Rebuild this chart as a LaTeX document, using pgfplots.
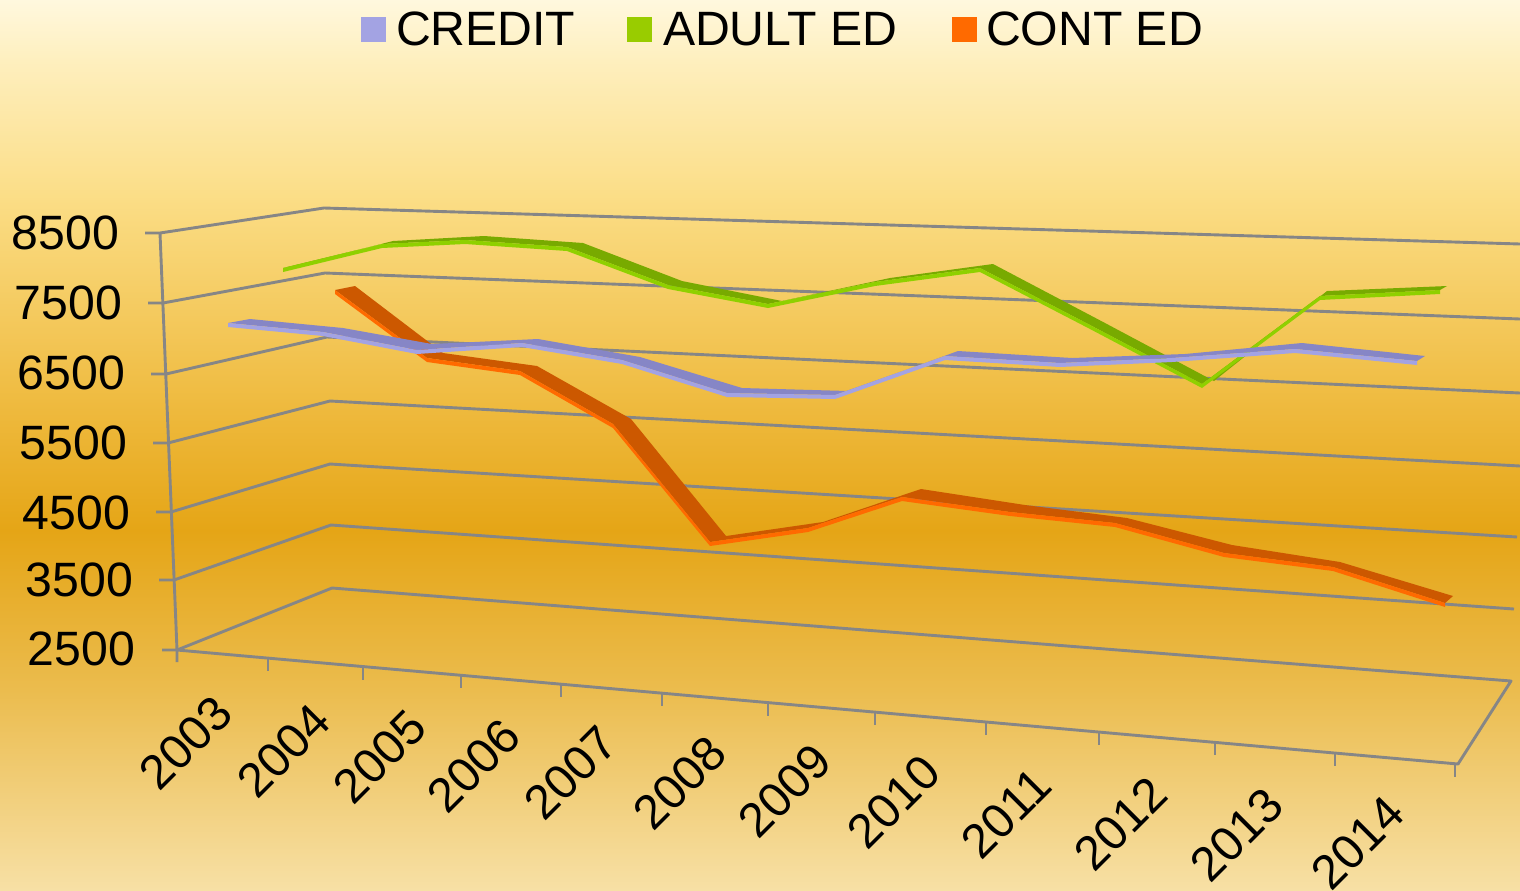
\documentclass[border=0pt]{standalone}
\usepackage{pgfplots}
\pgfplotsset{compat=1.18}
\usepackage{fontspec}
\setmainfont{Liberation Sans}
\definecolor{gridc}{HTML}{868686}
\definecolor{blueL}{HTML}{A3A3E3}
\definecolor{blueD}{HTML}{8686C6}
\definecolor{greenL}{HTML}{8FD000}
\definecolor{greenD}{HTML}{78AA00}
\definecolor{greenS}{HTML}{99CC00}
\definecolor{orL}{HTML}{FF6A00}
\definecolor{orD}{HTML}{CC5800}
\definecolor{bg0}{HTML}{FFF8DE}
\definecolor{bg1}{HTML}{FEEFBE}
\definecolor{bg2}{HTML}{FBDD85}
\definecolor{bg3}{HTML}{EFBB40}
\definecolor{bg4}{HTML}{E5A516}
\definecolor{bg5}{HTML}{EBBC4E}
\definecolor{bg6}{HTML}{F7E0A5}
\newcommand\fs{\fontsize{24.1pt}{28pt}\selectfont}
\tikzset{lab/.style={font=\fs,inner sep=0pt,outer sep=0pt,text=black}}
\begin{document}
\begin{tikzpicture}
\useasboundingbox (0,0) rectangle (760pt,445pt);
\begin{axis}[at={(0,0)},anchor=south west,width=760pt,height=445pt,scale only axis,hide axis,
  xmin=0,xmax=1520,ymin=0,ymax=890,y dir=reverse,clip=true,
  grid line/.style={draw=gridc,line width=1.45pt,line join=round}]
\shade[top color=bg0,bottom color=bg1] (axis cs:0,0) rectangle (axis cs:1520,61);
\shade[top color=bg1,bottom color=bg2] (axis cs:0,60) rectangle (axis cs:1520,201);
\shade[top color=bg2,bottom color=bg3] (axis cs:0,200) rectangle (axis cs:1520,401);
\shade[top color=bg3,bottom color=bg4] (axis cs:0,400) rectangle (axis cs:1520,531);
\shade[top color=bg4,bottom color=bg5] (axis cs:0,530) rectangle (axis cs:1520,691);
\shade[top color=bg5,bottom color=bg6] (axis cs:0,690) rectangle (axis cs:1520,890);
% walls
\addplot[grid line] coordinates {(145,233)(160,233)(324,208)(1520,244)};
\addplot[grid line] coordinates {(148,303)(163,303)(325,273)(1520,319)};
\addplot[grid line] coordinates {(151,374)(166,374)(327,337)(1520,393)};
\addplot[grid line] coordinates {(153,443)(168,443)(330,401)(1520,466)};
\addplot[grid line] coordinates {(156,512)(171,512)(330,464)(1517,537)};
\addplot[grid line] coordinates {(159,580)(174,580)(331,525)(1514,609)};
\addplot[grid line] coordinates {(162,650)(177,650)(332,588)(1511,681)(1458,764)(177,650)};
\addplot[grid line] coordinates {(160,233)(177,650)(177,662)};
\addplot[grid line] coordinates {(268,658)(268,671)};
\addplot[grid line] coordinates {(363,667)(363,680)};
\addplot[grid line] coordinates {(461,675)(461,688)};
\addplot[grid line] coordinates {(561,684)(561,697)};
\addplot[grid line] coordinates {(662,693)(662,706)};
\addplot[grid line] coordinates {(768,703)(768,716)};
\addplot[grid line] coordinates {(875,712)(875,725)};
\addplot[grid line] coordinates {(986,722)(986,735)};
\addplot[grid line] coordinates {(1099,732)(1099,745)};
\addplot[grid line] coordinates {(1215,742)(1215,755)};
\addplot[grid line] coordinates {(1335,753)(1335,766)};
\addplot[grid line] coordinates {(1455,764)(1455,777)};
% CONT ED
\addplot[fill=orD,draw=none] coordinates {(335,290)(427,358)(520,371)(613,424)(710,542)(808,528)(902,497)(1010,512)(1115,523)(1224,553)(1333,567)(1445,603)
 (1453,596)(1340,562)(1232,545)(1127,518)(1025,505)(921,489)(823,522)(726,536)(631,419)(537,366)(443,353)(355,286)} --cycle;
\addplot[fill=orL,draw=none] coordinates {(335,290)(427,358)(520,371)(613,424)(710,542)(808,528)(902,497)(1010,512)(1115,523)(1224,553)(1333,567)(1445,603)
 (1445,607)(1333,571)(1224,557)(1115,527)(1010,516)(902,501)(808,532)(710,546)(613,428)(520,375)(427,362)(335,294)} --cycle;
% ADULT ED
\addplot[fill=greenD,draw=none] coordinates {(283,268)(382,244)(465,240)(567,247)(668,285)(768,304)(875,282)(980,268)(1090,325)(1202,384)(1320,296)(1440,290)
 (1447,286)(1327,291)(1214,381)(1105,323)(993,264)(890,278)(782,301)(682,281)(583,243)(484,236)(393,241)(295,266)} --cycle;
\addplot[fill=greenL,draw=none] coordinates {(283,268)(382,244)(465,240)(567,247)(668,285)(768,304)(875,282)(980,268)(1090,325)(1202,384)(1320,296)(1440,290)
 (1440,294)(1320,300)(1202,388)(1090,329)(980,272)(875,286)(768,308)(668,289)(567,251)(465,244)(382,248)(283,272)} --cycle;
% CREDIT
\addplot[fill=blueD,draw=none] coordinates {(228,323)(323,332)(417,350)(522,343)(622,360)(727,393)(835,395)(945,356)(1060,363)(1172,358)(1295,349)(1417,361)
 (1425,356)(1302,343)(1185,354)(1072,358)(958,351)(848,391)(742,388)(640,357)(538,339)(432,344)(343,328)(250,319)} --cycle;
\addplot[fill=blueL,draw=none] coordinates {(228,323)(323,332)(417,350)(522,343)(622,360)(727,393)(835,395)(945,356)(1060,363)(1172,358)(1295,349)(1417,361)
 (1417,365)(1295,353)(1172,362)(1060,367)(945,360)(835,399)(727,397)(622,364)(522,347)(417,354)(323,336)(228,327)} --cycle;
% legend
\addplot[fill=blueL,draw=none] coordinates {(361,17)(386,17)(386,42)(361,42)} --cycle;
\addplot[fill=greenS,draw=none] coordinates {(627,17)(652,17)(652,42)(627,42)} --cycle;
\addplot[fill=orL,draw=none] coordinates {(952,17)(977,17)(977,42)(952,42)} --cycle;
\node[lab,anchor=base west] at (axis cs:396,45) {CREDIT};
\node[lab,anchor=base west] at (axis cs:663,45) {ADULT ED};
\node[lab,anchor=base west] at (axis cs:986,45) {CONT ED};
% y labels
\node[lab,anchor=east] at (axis cs:119,233) {8500};
\node[lab,anchor=east] at (axis cs:122,303) {7500};
\node[lab,anchor=east] at (axis cs:125,373) {6500};
\node[lab,anchor=east] at (axis cs:127,443) {5500};
\node[lab,anchor=east] at (axis cs:130,513) {4500};
\node[lab,anchor=east] at (axis cs:133,580) {3500};
\node[lab,anchor=east] at (axis cs:135,649) {2500};
% x labels
\node[lab,rotate=45] at (axis cs:186,743) {2003};
\node[lab,rotate=45] at (axis cs:284,751) {2004};
\node[lab,rotate=45] at (axis cs:380,757) {2005};
\node[lab,rotate=45] at (axis cs:474,766) {2006};
\node[lab,rotate=45] at (axis cs:571,773) {2007};
\node[lab,rotate=45] at (axis cs:680,783) {2008};
\node[lab,rotate=45] at (axis cs:785,791) {2009};
\node[lab,rotate=45] at (axis cs:894,802) {2010};
\node[lab,rotate=45] at (axis cs:1006,813) {2011};
\node[lab,rotate=45] at (axis cs:1121,824) {2012};
\node[lab,rotate=45] at (axis cs:1237,835) {2013};
\node[lab,rotate=45] at (axis cs:1358,843) {2014};
\end{axis}
\end{tikzpicture}
\end{document}
